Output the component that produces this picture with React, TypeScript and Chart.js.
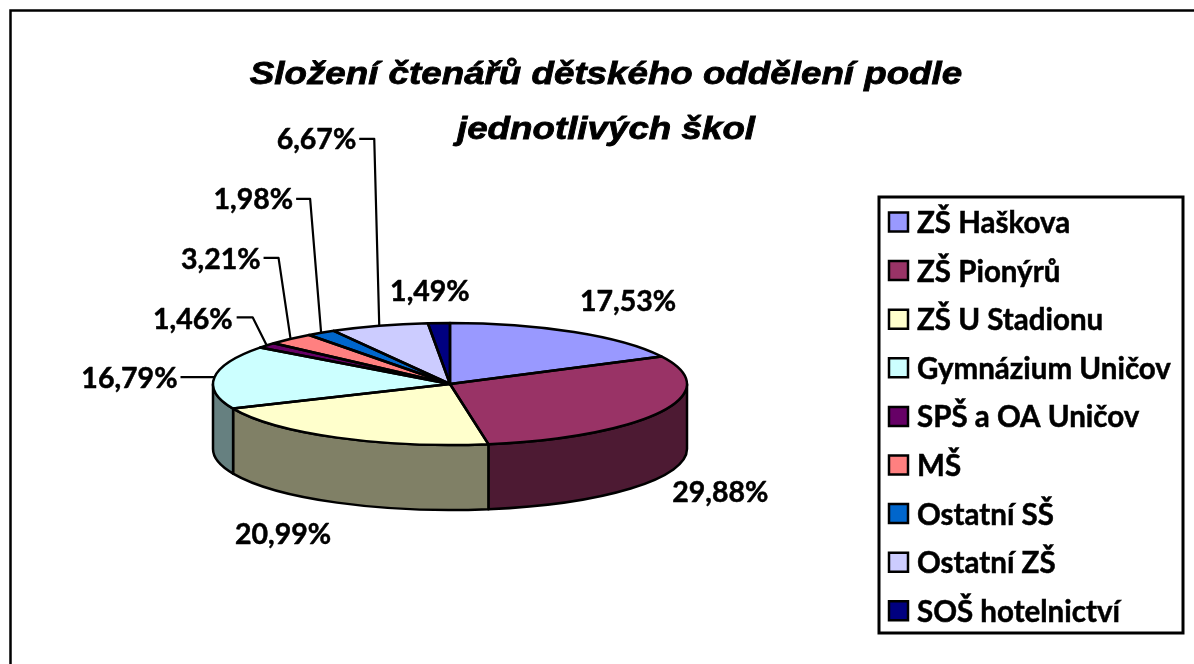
import React, { useEffect, useRef } from "react";
import { Chart, registerables } from "chart.js";

Chart.register(...registerables);

const titleLines = ["Složení čtenářů dětského oddělení podle", "jednotlivých škol"];
const categories = ["ZŠ Haškova", "ZŠ Pionýrů", "ZŠ U Stadionu", "Gymnázium Uničov", "SPŠ a OA Uničov", "MŠ", "Ostatní SŠ", "Ostatní ZŠ", "SOŠ hotelnictví"];
const shares = [17.53, 29.88, 20.99, 16.79, 1.46, 3.21, 1.98, 6.67, 1.49];
const sliceColors = ["#9999FF", "#993366", "#FFFFCC", "#CCFFFF", "#660066", "#FF8080", "#0066CC", "#CCCCFF", "#000080"];

// Label placement relative to each slice's rim point: label anchor, then optional leader elbow.
const labelPlacement: { text: [number, number]; align: CanvasTextAlign; elbow?: [number, number]; tail?: [number, number] }[] = [
  { text: [54, -30], align: "center" },
  { text: [59, 81], align: "center" },
  { text: [-54, 97], align: "center" },
  { text: [-37, 2], align: "right", tail: [-34, 0] },
  { text: [-34, -26], align: "right", elbow: [-14, -28], tail: [-30, -28] },
  { text: [-30, -79], align: "right", elbow: [-12, -81], tail: [-27, -81] },
  { text: [-28, -133], align: "right", elbow: [-11, -134], tail: [-25, -134] },
  { text: [-23, -186], align: "right", elbow: [-5, -187], tail: [-20, -187] },
  { text: [-9, -31], align: "center" },
];

const PIE_SQUASH = 61 / 237;
const PIE_DEPTH = 65;
const OUTLINE = 2.5;
const labelFont = "bold 28.5px Lato";
const LEGEND_FONT_SIZE = 29.5;
const LEGEND_ROW_GAP = 19.1;

const darker = (hex: string) => {
  const n = parseInt(hex.slice(1), 16);
  const c = [(n >> 16) & 255, (n >> 8) & 255, n & 255].map((v) => Math.round(v / 2));
  return `rgb(${c[0]},${c[1]},${c[2]})`;
};

const arcsOf = (chart: any) => chart.getDatasetMeta(0).data as any[];

const pie3d = {
  id: "pie3d",
  beforeDraw(chart: any) {
    const { ctx, width, height } = chart;
    ctx.save();
    ctx.fillStyle = "#fff";
    ctx.fillRect(0, 0, width, height);
    ctx.strokeStyle = "#000";
    ctx.lineWidth = 2.5;
    ctx.beginPath();
    ctx.moveTo(10.5, height);
    ctx.lineTo(10.5, 10.5);
    ctx.lineTo(width, 10.5);
    ctx.stroke();
    ctx.lineWidth = 3;
    ctx.strokeRect(879, 197, 304, 436);
    ctx.restore();
  },
  afterLayout(chart: any) {
    const l = chart.legend;
    l.left = 889 - LEGEND_ROW_GAP;
    l.top = 207.25 - LEGEND_ROW_GAP;
    l.right = 1194;
    l.bottom = 664;
    l.width = l.right - l.left;
    l.height = l.bottom - l.top;
    if (!l.__patched) {
      l.__patched = true;
      const legendDraw = l.draw;
      l.draw = function (...args: any[]) {
        const c = this.ctx;
        const fill = c.fillText;
        c.fillText = (s: string, x: number, y: number) => {
          c.lineWidth = 0.5;
          c.strokeStyle = "#000";
          c.strokeText(s, x - 5.75, y + 1.5);
          fill.call(c, s, x - 5.75, y + 1.5);
        };
        legendDraw.apply(this, args);
        delete c.fillText;
      };
    }
    const t = chart.titleBlock;
    if (!t.__stretched) {
      t.__stretched = true;
      const draw = t.draw;
      t.draw = function (...args: any[]) {
        const c = this.ctx;
        c.save();
        c.translate(606, 0);
        c.scale(1.185, 1);
        c.translate(-450, 11);
        c.lineWidth = 0.8;
        c.strokeStyle = "#000";
        const fill = c.fillText;
        c.fillText = function (s: string, x: number, y: number) {
          c.strokeText(s, x, y);
          fill.call(c, s, x, y);
        };
        draw.apply(this, args);
        delete c.fillText;
        c.restore();
      };
    }
  },
  beforeDatasetsDraw(chart: any) {
    const { ctx } = chart;
    const arcs = arcsOf(chart);
    ctx.save();
    ctx.lineWidth = OUTLINE;
    ctx.strokeStyle = "#000";
    ctx.lineJoin = "round";
    arcs.forEach((arc, i) => {
      const r = arc.outerRadius;
      const ry = r * PIE_SQUASH;
      const a0 = Math.max(arc.startAngle, 0);
      const a1 = Math.min(arc.endAngle, Math.PI);
      if (a1 <= a0) return;
      ctx.beginPath();
      ctx.ellipse(arc.x, arc.y, r, ry, 0, a0, a1);
      ctx.ellipse(arc.x, arc.y + PIE_DEPTH, r, ry, 0, a1, a0, true);
      ctx.closePath();
      ctx.fillStyle = darker(sliceColors[i]);
      ctx.fill();
      ctx.stroke();
    });
    ctx.restore();
    ctx.save();
    const { x, y } = arcs[0];
    ctx.translate(x, y);
    ctx.scale(1, PIE_SQUASH);
    ctx.translate(-x, -y);
  },
  afterDatasetsDraw(chart: any) {
    const { ctx } = chart;
    ctx.restore();
    const arcs = arcsOf(chart);
    ctx.save();
    ctx.lineWidth = OUTLINE;
    ctx.strokeStyle = "#000";
    ctx.lineJoin = "round";
    arcs.forEach((arc) => {
      const r = arc.outerRadius;
      ctx.beginPath();
      ctx.moveTo(arc.x, arc.y);
      ctx.ellipse(arc.x, arc.y, r, r * PIE_SQUASH, 0, arc.startAngle, arc.endAngle);
      ctx.closePath();
      ctx.stroke();
    });
    ctx.fillStyle = "#000";
    ctx.font = labelFont;
    ctx.textBaseline = "middle";
    arcs.forEach((arc, i) => {
      const mid = (arc.startAngle + arc.endAngle) / 2;
      const r = arc.outerRadius;
      const px = arc.x + r * Math.cos(mid);
      const py = arc.y + r * PIE_SQUASH * Math.sin(mid);
      const p = labelPlacement[i];
      if (p.tail) {
        ctx.lineWidth = 2.2;
        ctx.beginPath();
        ctx.moveTo(px, py);
        if (p.elbow) ctx.lineTo(px + p.elbow[0], py + p.elbow[1]);
        ctx.lineTo(px + p.tail[0], py + p.tail[1]);
        ctx.stroke();
      }
      ctx.textAlign = p.align;
      const label = shares[i].toFixed(2).replace(".", ",") + "%";
      ctx.lineWidth = 0.5;
      ctx.strokeText(label, px + p.text[0], py + p.text[1]);
      ctx.fillText(label, px + p.text[0], py + p.text[1]);
    });
    ctx.restore();
  },
};

export default function App() {
  const ref = useRef<HTMLCanvasElement>(null);
  useEffect(() => {
    const chart = new Chart(ref.current!, {
      type: "pie",
      data: {
        labels: categories,
        datasets: [{ data: shares, backgroundColor: sliceColors, borderWidth: 0 }],
      },
      plugins: [pie3d],
      options: {
        responsive: false,
        animation: false,
        layout: { padding: { left: 213, right: 507, top: 37, bottom: 43 } },
        plugins: {
          tooltip: { enabled: false },
          title: {
            display: true,
            text: titleLines,
            color: "#000",
            padding: 0,
            font: { family: "Liberation Sans", size: 31, weight: "bold", style: "italic", lineHeight: "55px" as any },
          },
          legend: {
            position: "chartArea" as any,
            align: "start",
            labels: {
              color: "#000",
              boxWidth: 19,
              boxHeight: 19,
              padding: LEGEND_ROW_GAP,
              font: { family: "Lato", size: LEGEND_FONT_SIZE, weight: "bold" },
              generateLabels: (c: any) =>
                categories.map((text, i) => ({
                  text,
                  fillStyle: sliceColors[i],
                  strokeStyle: "#000",
                  lineWidth: 2.5,
                  index: i,
                  hidden: false,
                })),
            },
          },
        },
      },
    });
    return () => chart.destroy();
  }, []);
  return (
    <canvas
      ref={ref}
      width={1194}
      height={664}
      style={{ position: "absolute", left: 0, top: 0, display: "block" }}
    />
  );
}
